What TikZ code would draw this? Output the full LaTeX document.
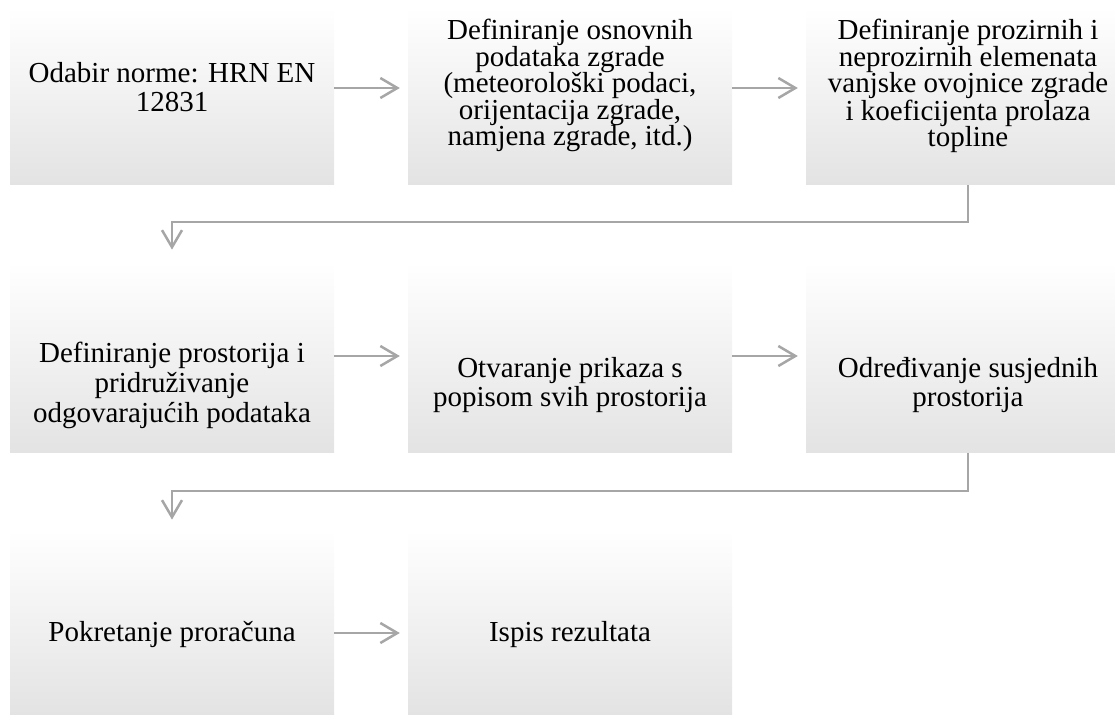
\documentclass[tikz,border=0pt]{standalone}
\usepackage{fontspec}
\setmainfont{Liberation Serif}
\usepackage{xcolor}
\usetikzlibrary{arrows.meta}
\definecolor{flowgray}{HTML}{A6A6A6}
\definecolor{boxgray}{HTML}{E3E3E3}

\begin{document}
\begin{tikzpicture}[x=1pt,y=-1pt,
        stepbox/.style={anchor=south,minimum width=324pt,inner sep=0pt,
            top color=white,middle color=white,bottom color=boxgray},
        steptext/.style={anchor=north,align=center,inner sep=0pt,
            font=\fontsize{29}{26.5}\selectfont},
        flow/.style={draw=flowgray,line width=2.5pt,
            -{Straight Barb[length=17pt,width=20pt]}}]
                \clip (0,0) rectangle (1115,715);
                \node[stepbox,minimum height=177pt] (b1) at (172,185) {};
                \node[stepbox,minimum height=177pt] (b2) at (570,185) {};
                \node[stepbox,minimum height=177pt] (b3) at (968,185) {};
                \node[stepbox,minimum height=191pt] (b4) at (172,453) {};
                \node[stepbox,minimum height=191pt] (b5) at (570,453) {};
                \node[stepbox,minimum height=191pt] (b6) at (968,453) {};
                \node[stepbox,minimum height=185pt] (b7) at (172,715) {};
                \node[stepbox,minimum height=185pt] (b8) at (570,715) {};
                \node[steptext,font=\fontsize{29}{29}\selectfont] (t1) at (172,62) {Odabir norme: HRN EN\\12831};
                \node[steptext] (t2) at (570,19) {Definiranje osnovnih\\podataka zgrade\\(meteorološki podaci,\\orijentacija zgrade,\\namjena zgrade, itd.)};
                \node[steptext] (t3) at (968,19) {Definiranje prozirnih i\\neprozirnih elemenata\\vanjske ovojnice zgrade\\i koeficijenta prolaza\\topline};
                \node[steptext,font=\fontsize{29}{30}\selectfont] (t4) at (172,342) {Definiranje prostorija i\\pridruživanje\\odgovarajućih podataka};
                \node[steptext,font=\fontsize{29}{29}\selectfont] (t5) at (570,357) {Otvaranje prikaza s\\popisom svih prostorija};
                \node[steptext,font=\fontsize{29}{29}\selectfont] (t6) at (968,357) {Određivanje susjednih\\prostorija};
                \node[steptext] (t7) at (172,621) {Pokretanje proračuna};
                \node[steptext] (t8) at (570,621) {Ispis rezultata};
                \coordinate (r1) at (0,88);
                \coordinate (r2) at (0,356);
                \coordinate (r3) at (0,633);
                \coordinate (k1) at (172,222);
                \coordinate (k2) at (172,491);
                \draw[flow,shorten >=8pt] (b1.east |- r1) -- (b2.west |- r1);
                \draw[flow,shorten >=8pt] (b2.east |- r1) -- (b3.west |- r1);
                \draw[flow,shorten >=12pt] (b3.south) |- (k1) -- (b4.north);
                \draw[flow,shorten >=8pt] (b4.east |- r2) -- (b5.west |- r2);
                \draw[flow,shorten >=8pt] (b5.east |- r2) -- (b6.west |- r2);
                \draw[flow,shorten >=10pt] (b6.south) |- (k2) -- (b7.north);
                \draw[flow,shorten >=8pt] (b7.east |- r3) -- (b8.west |- r3);
            \end{tikzpicture}
\end{document}
